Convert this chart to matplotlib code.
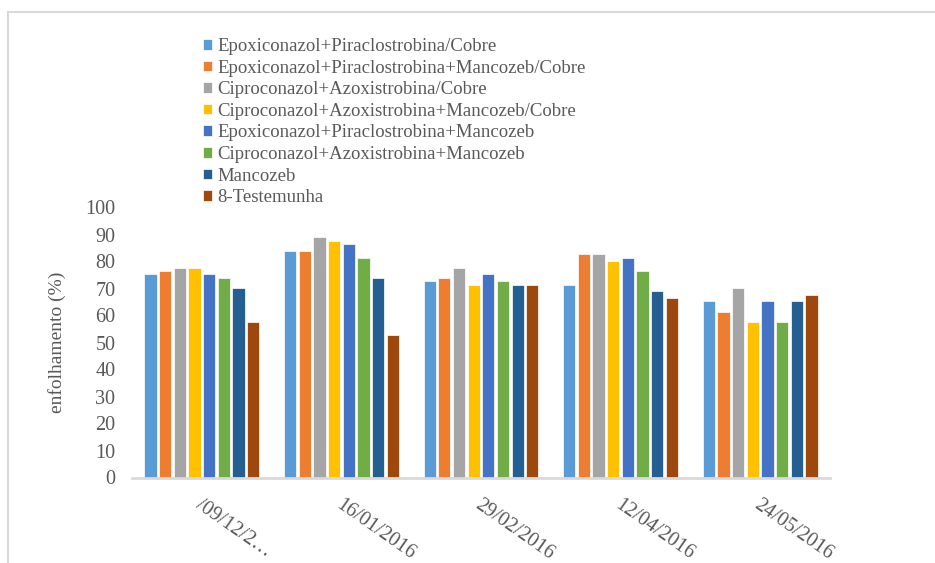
import numpy as np
import matplotlib.pyplot as plt
from matplotlib.patches import Rectangle

# DATOS
datas = ['/09/12/2…', '16/01/2016', '29/02/2016', '12/04/2016', '24/05/2016']
tratamentos = [
    'Epoxiconazol+Piraclostrobina/Cobre',
    'Epoxiconazol+Piraclostrobina+Mancozeb/Cobre',
    'Ciproconazol+Azoxistrobina/Cobre',
    'Ciproconazol+Azoxistrobina+Mancozeb/Cobre',
    'Epoxiconazol+Piraclostrobina+Mancozeb',
    'Ciproconazol+Azoxistrobina+Mancozeb',
    'Mancozeb',
    '8-Testemunha',
]
# enfolhamento (%) por tratamento, uma lista por data
epox_pira_cobre = [75.3, 84.0, 72.7, 71.4, 65.3]
epox_pira_manc_cobre = [76.5, 84.0, 74.0, 82.7, 61.4]
cipro_azox_cobre = [77.6, 89.0, 77.6, 82.7, 70.2]
cipro_azox_manc_cobre = [77.6, 87.7, 71.4, 80.2, 57.6]
epox_pira_manc = [75.3, 86.5, 75.3, 81.4, 65.3]
cipro_azox_manc = [74.0, 81.4, 72.7, 76.5, 57.6]
mancozeb = [70.2, 74.0, 71.4, 69.0, 65.3]
testemunha = [57.6, 52.7, 71.4, 66.5, 67.6]

series = [epox_pira_cobre, epox_pira_manc_cobre, cipro_azox_cobre, cipro_azox_manc_cobre,
          epox_pira_manc, cipro_azox_manc, mancozeb, testemunha]
cores = ['#5B9BD5', '#ED7D31', '#A5A5A5', '#FFC000', '#4472C4', '#70AD47', '#255E91', '#9E480E']

plt.rcParams['font.family'] = ['Liberation Serif', 'DejaVu Serif']
cinza = '#595959'

fig = plt.figure(figsize=(9.35, 5.63), dpi=100)
ax = fig.add_axes([132 / 935, 1 - 477.5 / 563, 698 / 935, 270 / 563])

# moldura do grafico
fig.patches.append(Rectangle((8 / 935, -0.1), 1.2, 1 - 12 / 563 + 0.1, transform=fig.transFigure,
                             fill=False, edgecolor='#D9D9D9', linewidth=1.5))

x = np.arange(len(datas))
passo = 0.105
largura = 0.088
for i, (valores, nome, cor) in enumerate(zip(series, tratamentos, cores)):
    ax.bar(x + (i - 3.5) * passo, valores, width=largura, color=cor, label=nome,
           edgecolor='white', linewidth=0.5)

ax.set_xlim(-0.5, len(datas) - 0.5)
ax.set_ylim(0, 100)
ax.set_yticks(range(0, 101, 10))
ax.tick_params(axis='y', length=0, labelsize=14.5, colors=cinza, pad=12)
ax.tick_params(axis='x', length=0)
ax.set_xticks(x)
ax.set_xticklabels([])
for xi, rotulo in zip(x, datas):
    ax.text(xi + 0.01, -6.5, rotulo, rotation=-35, rotation_mode='anchor', ha='left', va='top',
            fontsize=14.5, color=cinza, transform=ax.transData, clip_on=False)

for lado in ['top', 'right', 'left']:
    ax.spines[lado].set_visible(False)
ax.spines['bottom'].set_color('#D9D9D9')
ax.spines['bottom'].set_linewidth(2)

ax.set_ylabel('enfolhamento (%)', fontsize=14, color=cinza, labelpad=14)

ax.legend(loc='upper left', bbox_to_anchor=(203 / 935, 1 - 38 / 563), bbox_transform=fig.transFigure,
          frameon=False, fontsize=13.5, labelcolor=cinza, handlelength=0.5, handleheight=0.5,
          handletextpad=0.25, labelspacing=0.245, borderpad=0, borderaxespad=0)

fig.savefig('out.png', dpi=100)
